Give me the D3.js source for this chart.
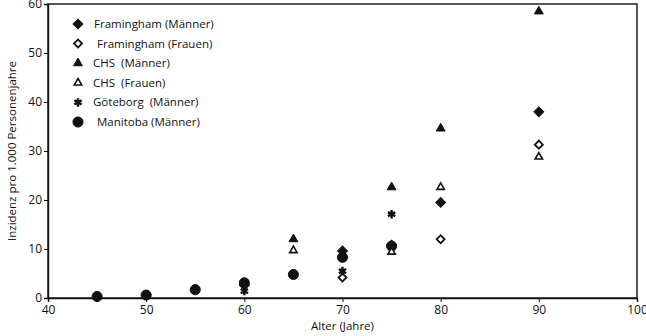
<!DOCTYPE html>
<html>
<head>
<meta charset="utf-8">
<script src="https://cdn.jsdelivr.net/npm/d3@7"></script>
<style>
body { margin: 0; background: #fff; }
text { font-family: "Open Sans", sans-serif; fill: #111; white-space: pre; }
</style>
</head>
<body>
<div id="chart"></div>
<script>
// Werte
var seriesNames = ["Framingham (Männer)", "Framingham (Frauen)", "CHS  (Männer)", "CHS  (Frauen)", "Göteborg  (Männer)", "Manitoba (Männer)"];
var framM_age = [60, 70, 75, 80, 90];
var framM_val = [2.6, 9.6, 10.8, 19.5, 38];
var framF_age = [70, 80, 90];
var framF_val = [4.2, 12, 31.3];
var chsM_age = [65, 75, 80, 90];
var chsM_val = [12, 22.6, 34.6, 58.5];
var chsF_age = [65, 75, 80, 90];
var chsF_val = [9.7, 9.4, 22.6, 28.8];
var goeM_age = [60, 70, 75];
var goeM_val = [1.4, 5.5, 17.1];
var manM_age = [45, 50, 55, 60, 65, 70, 75];
var manM_val = [0.3, 0.6, 1.7, 3.1, 4.8, 8.3, 10.6];
var xTicks = [40, 50, 60, 70, 80, 90, 100];
var yTicks = [0, 10, 20, 30, 40, 50, 60];

var svg = d3.select("#chart").append("svg")
    .attr("width", 646)
    .attr("height", 336);

var margin = {top: 4, right: 9, bottom: 38, left: 48},
    width = 646 - margin.left - margin.right,
    height = 336 - margin.top - margin.bottom;

var x = d3.scaleLinear().domain([40, 100]).range([0, width]);
var y = d3.scaleLinear().domain([0, 60]).range([height, 0]);

var g = svg.append("g")
    .attr("transform", "translate(" + margin.left + "," + margin.top + ")");

g.append("rect")
    .attr("width", width)
    .attr("height", height)
    .attr("fill", "none")
    .attr("stroke", "#111")
    .attr("stroke-width", 1.4);

var xAxis = g.append("g")
    .attr("transform", "translate(0," + height + ")")
    .call(d3.axisBottom(x).tickValues(xTicks).tickSize(4).tickPadding(3));
var yAxis = g.append("g")
    .call(d3.axisLeft(y).tickValues(yTicks).tickSize(4).tickPadding(2));
[xAxis, yAxis].forEach(function(a) {
  a.select(".domain").attr("stroke", "#111").attr("stroke-width", 1.4);
  a.selectAll(".tick line").attr("stroke", "#111");
  a.selectAll("text").attr("font-size", 12).attr("font-family", "Open Sans, sans-serif").attr("fill", "#111");
});

svg.append("text")
    .attr("x", margin.left + width / 2)
    .attr("y", 330)
    .attr("text-anchor", "middle")
    .attr("font-size", 11.5)
    .text("Alter (Jahre)");

svg.append("text")
    .attr("transform", "translate(16," + (margin.top + height / 2) + ") rotate(-90)")
    .attr("text-anchor", "middle")
    .attr("font-size", 11.5)
    .text("Inzidenz pro 1.000 Personenjahre");

// Symbole je Reihe
var styles = [
  {type: d3.symbolSquare, size: 48, rot: 45, fill: "#111", stroke: "#111", sw: 1},
  {type: d3.symbolSquare, size: 32, rot: 45, fill: "#fff", stroke: "#111", sw: 1.8},
  {type: d3.symbolTriangle, size: 34, rot: 0, fill: "#111", stroke: "#111", sw: 1},
  {type: d3.symbolTriangle, size: 24, rot: 0, fill: "#fff", stroke: "#111", sw: 1.6},
  {type: d3.symbolAsterisk, size: 50, rot: 0, fill: "none", stroke: "#111", sw: 2.4},
  {type: d3.symbolCircle, size: 80, rot: 0, fill: "#111", stroke: "#111", sw: 1}
];

var series = [
  {ages: framM_age, vals: framM_val},
  {ages: framF_age, vals: framF_val},
  {ages: chsM_age, vals: chsM_val},
  {ages: chsF_age, vals: chsF_val},
  {ages: goeM_age, vals: goeM_val},
  {ages: manM_age, vals: manM_val}
];

// Zeichenreihenfolge: Manitoba zuerst unten
var order = [5, 0, 1, 4, 3, 2];
order.forEach(function(i) {
  var st = styles[i];
  var pts = series[i].ages.map(function(a, k) { return {a: a, v: series[i].vals[k]}; });
  g.selectAll(".pt" + i)
    .data(pts)
    .enter().append("path")
    .attr("class", "pt" + i)
    .attr("d", d3.symbol().type(st.type).size(st.size))
    .attr("transform", function(d) { return "translate(" + x(d.a) + "," + y(d.v) + ") rotate(" + st.rot + ")"; })
    .attr("fill", st.fill)
    .attr("stroke", st.stroke)
    .attr("stroke-width", st.sw);
});

// Legende
var legend = g.selectAll(".leg")
    .data(seriesNames)
    .enter().append("g")
    .attr("class", "leg")
    .attr("transform", function(d, i) { return "translate(30," + (20 + i * 19.6) + ")"; });

legend.append("path")
    .attr("d", function(d, i) { return d3.symbol().type(styles[i].type).size(styles[i].size)(); })
    .attr("transform", function(d, i) { return "rotate(" + styles[i].rot + ")"; })
    .attr("fill", function(d, i) { return styles[i].fill; })
    .attr("stroke", function(d, i) { return styles[i].stroke; })
    .attr("stroke-width", function(d, i) { return styles[i].sw; });

legend.append("text")
    .attr("x", function(d, i) { return [16, 19, 15, 15, 15, 19][i]; })
    .attr("dy", "0.35em")
    .attr("font-size", 11.5)
    .text(function(d) { return d; });
</script>
</body>
</html>
